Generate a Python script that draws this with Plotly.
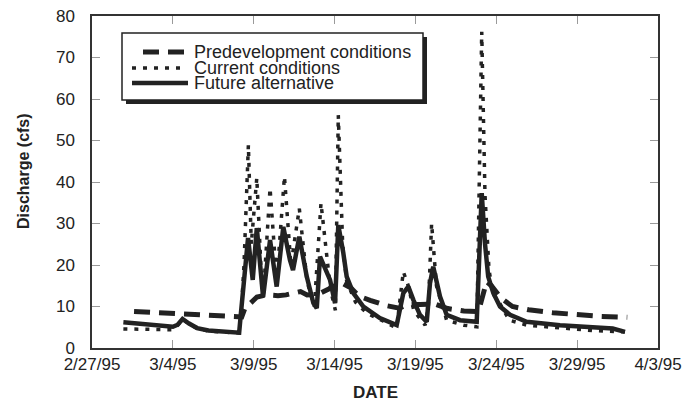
import pandas as pd
import plotly.graph_objects as go

# ---- data (days since 2/27/95, discharge in cfs) ----
base_date = "1995-02-27"

pre_day = [2.6, 5.0, 7.0, 9.26, 9.45, 9.8, 10.2, 10.8, 11.5, 12.0, 12.5, 12.9, 13.3, 14.0,
           14.8, 15.4, 16.0, 16.5, 17.2, 18.2, 19.0, 19.5, 20.3, 21.2, 22.0, 23.0, 23.9,
           24.2, 24.4, 24.7, 25.3, 26.0, 27.0, 28.5, 30.0, 31.5, 33.1]
pre_val = [8.8, 8.3, 7.9, 7.5, 9.5, 11.0, 12.3, 12.8, 12.6, 12.8, 13.2, 13.6, 12.8, 13.0,
           14.5, 15.8, 14.5, 12.5, 11.5, 10.2, 9.6, 10.5, 10.5, 10.6, 9.5, 8.9, 8.8,
           13.0, 16.0, 15.0, 12.0, 10.0, 9.2, 8.5, 8.0, 7.6, 7.4]

cur_day = [1.94, 3.0, 4.0, 5.0, 5.3, 5.6, 6.0, 6.5, 7.2, 8.0, 9.1, 9.25, 9.4, 9.67, 9.85,
           10.19, 10.5, 10.6, 11.01, 11.42, 11.9, 12.3, 12.82, 13.3, 13.75, 14.16, 14.75,
           15.05, 15.23, 15.5, 15.75, 16.3, 17.0, 18.0, 18.84, 19.25, 19.56, 19.9, 20.6,
           20.8, 21.0, 21.3, 21.93, 23.0, 23.8, 24.1, 24.3, 24.55, 24.8, 25.1, 25.8, 26.9,
           29.0, 31.0, 32.96]
cur_val = [4.6, 4.5, 4.4, 4.4, 5.5, 7.0, 5.8, 4.7, 4.1, 3.8, 3.6, 10.0, 20.0, 48.9, 25.0,
           41.0, 15.0, 13.0, 38.5, 16.0, 41.3, 20.0, 33.6, 16.0, 10.0, 34.9, 14.0,
           9.1, 56.1, 25.0, 16.0, 11.0, 8.4, 6.5, 4.8, 18.4, 15.0, 9.0, 5.5,
           10.0, 30.0, 15.0, 6.7, 5.5, 5.1, 76.2, 37.0, 18.8, 13.0, 11.6, 6.7, 5.5,
           4.8, 4.2, 3.9]

fut_day = [1.94, 3.0, 4.0, 5.0, 5.3, 5.6, 6.0, 6.5, 7.2, 8.0, 9.1, 9.2, 9.3, 9.45, 9.65,
           9.94, 10.19, 10.58, 11.01, 11.42, 11.83, 12.24, 12.43, 12.82, 13.28, 13.69,
           13.9, 14.1, 14.72, 15.03, 15.23, 15.54, 15.75, 16.16, 16.78, 17.8, 18.84,
           19.25, 19.56, 19.87, 20.28, 20.7, 20.9, 21.1, 21.52, 21.93, 22.76, 23.79,
           24.1, 24.3, 24.5, 24.82, 25.23, 25.85, 26.88, 28.94, 31.0, 32.2, 32.96]
fut_val = [6.2, 5.8, 5.4, 5.1, 5.6, 7.0, 5.9, 4.8, 4.2, 3.9, 3.7, 8.0, 12.0, 18.0, 26.5,
           16.4, 28.9, 12.3, 26.0, 14.8, 29.2, 21.2, 18.8, 26.8, 17.2, 10.8,
           9.6, 22.0, 16.4, 10.8, 29.6, 22.9, 17.2, 13.2, 10.0, 7.2, 5.5,
           13.2, 14.8, 11.6, 8.0, 6.3, 15.6, 19.6, 12.4, 8.0, 6.7, 6.3,
           37.3, 25.2, 17.2, 13.2, 10.0, 8.0, 6.3, 5.5, 5.1, 4.7, 3.9]

tick_dates = ["1995-02-27", "1995-03-04", "1995-03-09", "1995-03-14",
              "1995-03-19", "1995-03-24", "1995-03-29", "1995-04-03"]
tick_text = ["2/27/95", "3/4/95", "3/9/95", "3/14/95", "3/19/95", "3/24/95", "3/29/95", "4/3/95"]

names = ["Predevelopment conditions", "Current conditions", "Future alternative"]


def to_dates(days):
    return pd.to_datetime(base_date) + pd.to_timedelta(days, unit="D")


INK = "#222222"
FONT = "Liberation Sans, Arial, Helvetica, sans-serif"

fig = go.Figure()
fig.add_trace(go.Scatter(x=to_dates(pre_day), y=pre_val, mode="lines", name=names[0],
                         line=dict(color=INK, width=5, dash="16px,9px")))
fig.add_trace(go.Scatter(x=to_dates(cur_day), y=cur_val, mode="lines", name=names[1],
                         line=dict(color=INK, width=3.5, dash="4px,7px")))
fig.add_trace(go.Scatter(x=to_dates(fut_day), y=fut_val, mode="lines", name=names[2],
                         line=dict(color=INK, width=4.5)))

W, H = 697, 405
L, R, T, B = 92, 39, 16, 57
PW, PH = W - L - R, H - T - B


def px_x(px):
    return (px - L) / PW


def px_y(py):
    return (H - B - py) / PH


axis_common = dict(showline=True, linecolor="#333333", linewidth=1.5, mirror="ticks",
                   ticks="inside", ticklen=8, tickcolor="#9a9a9a", tickwidth=1,
                   showgrid=False, zeroline=False, automargin=False,
                   tickfont=dict(family=FONT, size=17, color=INK))

fig.update_layout(
    width=W, height=H,
    margin=dict(l=L, r=R, t=T, b=B, autoexpand=False),
    paper_bgcolor="white", plot_bgcolor="white",
    showlegend=False,
    xaxis=dict(type="date", range=[tick_dates[0], tick_dates[-1]],
               tickmode="array", tickvals=tick_dates, ticktext=tick_text,
               ticklabelstandoff=0, **axis_common),
    yaxis=dict(range=[0, 80], tickmode="linear", tick0=0, dtick=10,
               ticklabelstandoff=12, **axis_common),
)

# axis titles
fig.add_annotation(text="<b>DATE</b>", xref="paper", yref="paper",
                   x=px_x(375), y=px_y(393), xanchor="center", yanchor="middle",
                   showarrow=False, font=dict(family=FONT, size=17, color=INK))
fig.add_annotation(text="<b>Discharge (cfs)</b>", xref="paper", yref="paper",
                   x=px_x(23), y=px_y(171), xanchor="center", yanchor="middle",
                   showarrow=False, textangle=-90,
                   font=dict(family=FONT, size=16, color=INK))

# legend box with shadow
bx0, by0, bx1, by1 = 122, 33, 423, 100
fig.add_shape(type="rect", xref="paper", yref="paper",
              x0=px_x(bx0 + 4), x1=px_x(bx1 + 4), y0=px_y(by1 + 4), y1=px_y(by0 + 4),
              fillcolor=INK, line=dict(width=0), layer="above")
fig.add_shape(type="rect", xref="paper", yref="paper",
              x0=px_x(bx0), x1=px_x(bx1), y0=px_y(by1), y1=px_y(by0),
              fillcolor="white", line=dict(color=INK, width=1.5), layer="above")

samples = [
    (143, 186, 52, dict(color=INK, width=5, dash="16px,9px")),
    (132, 186, 68, dict(color=INK, width=3.5, dash="4px,7px")),
    (132, 188, 83, dict(color=INK, width=4.5)),
]
for (sx0, sx1, sy, ln), nm in zip(samples, names):
    fig.add_shape(type="line", xref="paper", yref="paper",
                  x0=px_x(sx0), x1=px_x(sx1), y0=px_y(sy), y1=px_y(sy),
                  line=ln, layer="above")
    fig.add_annotation(text=nm, xref="paper", yref="paper", x=px_x(192), y=px_y(sy),
                       xanchor="left", yanchor="middle", showarrow=False,
                       font=dict(family=FONT, size=18, color=INK))

fig.write_html("out.html",
               config={"displayModeBar": False},
               post_script=["document.body.style.margin='0px';"
                            "document.body.style.overflow='hidden';"])
